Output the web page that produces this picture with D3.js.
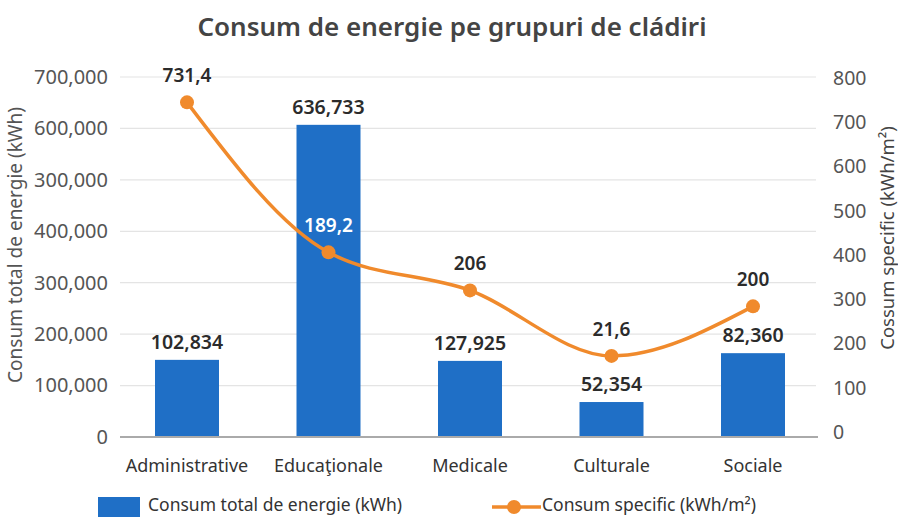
<!DOCTYPE html>
<html>
<head>
<meta charset="utf-8">
<script src="https://cdn.jsdelivr.net/npm/d3@7"></script>
<style>
  body { margin: 0; background: #fff; }
  svg { display: block; font-family: "Noto Sans", "Open Sans", sans-serif; }
</style>
</head>
<body>
<div id="chart"></div>
<script>
// data
const categories = ['Administrative', 'Educaţionale', 'Medicale', 'Culturale', 'Sociale'];
const barValues = [150000, 607000, 148000, 68000, 163000];
const barLabels = ['102,834', '636,733', '127,925', '52,354', '82,360'];
const lineValues = [745, 406, 320, 172, 284];
const lineLabels = ['731,4', '189,2', '206', '21,6', '200'];
const leftTickValues = [0, 100000, 200000, 300000, 400000, 500000, 600000, 700000];
const leftTickLabels = ['0', '100,000', '200,000', '300,000', '400,000', '300,000', '600,000', '700,000'];
const rightTickValues = [0, 100, 200, 300, 400, 500, 600, 700, 800];

const width = 898;
const height = 517;
const blue = '#1f6fc6';
const orange = '#f08a2c';

const svg = d3.select('#chart')
  .append('svg')
  .attr('width', width)
  .attr('height', height);

const x = d3.scalePoint()
  .domain(categories)
  .range([187, 753]);

const yL = d3.scaleLinear()
  .domain([0, 700000])
  .range([437, 77]);

const yR = d3.scaleLinear()
  .domain([0, 800])
  .range([432, 78]);

// title
svg.append('text')
  .attr('x', 452)
  .attr('y', 36)
  .attr('text-anchor', 'middle')
  .style('font-size', '26px')
  .style('font-weight', 600)
  .style('fill', '#444')
  .text('Consum de energie pe grupuri de cládiri');

// gridlines
svg.append('g')
  .selectAll('line')
  .data(leftTickValues.slice(1))
  .enter().append('line')
    .attr('x1', 120)
    .attr('x2', 816)
    .attr('y1', d => yL(d))
    .attr('y2', d => yL(d))
    .style('stroke', '#e4e4e4')
    .style('stroke-width', 1.2);

// left axis
const leftAxis = d3.axisLeft(yL)
  .tickValues(leftTickValues)
  .tickSize(0)
  .tickPadding(0)
  .tickFormat((d, i) => leftTickLabels[i]);

svg.append('g')
  .attr('transform', 'translate(108,0)')
  .call(leftAxis)
  .call(g => g.select('.domain').remove())
  .selectAll('text')
    .style('font-family', '"Noto Sans", sans-serif')
    .style('font-size', '20px')
    .style('fill', '#555');

// right axis
const rightAxis = d3.axisRight(yR)
  .tickValues(rightTickValues)
  .tickSize(0)
  .tickPadding(0)
  .tickFormat(d3.format('d'));

svg.append('g')
  .attr('transform', 'translate(833,0)')
  .call(rightAxis)
  .call(g => g.select('.domain').remove())
  .selectAll('text')
    .style('font-family', '"Noto Sans", sans-serif')
    .style('font-size', '19.5px')
    .style('fill', '#555');

// axis titles
svg.append('text')
  .attr('transform', 'translate(22,245) rotate(-90)')
  .attr('text-anchor', 'middle')
  .style('font-size', '19px')
  .style('fill', '#555')
  .text('Consum total de energie (kWh)');

svg.append('text')
  .attr('transform', 'translate(894,238) rotate(-90)')
  .attr('text-anchor', 'middle')
  .style('font-size', '18.5px')
  .style('fill', '#444')
  .text('Cossum specific  (kWh/m²)');

// bars
const barW = 64;
const rows = categories.map((c, i) => ({
  cat: c,
  bar: barValues[i],
  barLabel: barLabels[i],
  line: lineValues[i],
  lineLabel: lineLabels[i]
}));

svg.append('g')
  .selectAll('rect')
  .data(rows)
  .enter().append('rect')
    .attr('x', d => x(d.cat) - barW / 2)
    .attr('y', d => yL(d.bar))
    .attr('width', barW)
    .attr('height', d => yL(0) - yL(d.bar))
    .style('fill', blue);

// baseline
svg.append('line')
  .attr('x1', 120)
  .attr('x2', 818)
  .attr('y1', yL(0))
  .attr('y2', yL(0))
  .style('stroke', '#aaa')
  .style('stroke-width', 2);

// bar labels
svg.append('g')
  .selectAll('text')
  .data(rows)
  .enter().append('text')
    .attr('x', d => x(d.cat))
    .attr('y', d => yL(d.bar) - 11)
    .attr('text-anchor', 'middle')
    .style('font-size', '19.5px')
    .style('font-weight', 600)
    .style('fill', '#2b2b2b')
    .text(d => d.barLabel);

// category labels
svg.append('g')
  .selectAll('text')
  .data(rows)
  .enter().append('text')
    .attr('x', d => x(d.cat))
    .attr('y', 472)
    .attr('text-anchor', 'middle')
    .style('font-size', '18px')
    .style('fill', '#333')
    .text(d => d.cat);

// line
const line = d3.line()
  .x(d => x(d.cat))
  .y(d => yR(d.line))
  .curve(d3.curveMonotoneX);

svg.append('path')
  .datum(rows)
  .attr('d', line)
  .style('fill', 'none')
  .style('stroke', orange)
  .style('stroke-width', 3.5);

svg.append('g')
  .selectAll('circle')
  .data(rows)
  .enter().append('circle')
    .attr('cx', d => x(d.cat))
    .attr('cy', d => yR(d.line))
    .attr('r', 7)
    .style('fill', orange);

// line labels, white where they sit on a bar
svg.append('g')
  .selectAll('text')
  .data(rows)
  .enter().append('text')
    .attr('x', d => x(d.cat))
    .attr('y', d => yR(d.line) - 20)
    .attr('text-anchor', 'middle')
    .style('font-size', '19px')
    .style('font-weight', 600)
    .style('fill', d => yR(d.line) - 26 > yL(d.bar) ? '#fff' : '#2b2b2b')
    .text(d => d.lineLabel);

// legend
const legend = svg.append('g');

legend.append('rect')
  .attr('x', 98)
  .attr('y', 497)
  .attr('width', 42)
  .attr('height', 24)
  .style('fill', blue);

legend.append('text')
  .attr('x', 148)
  .attr('y', 511)
  .style('font-size', '17.5px')
  .style('fill', '#333')
  .text('Consum total de energie (kWh)');

legend.append('line')
  .attr('x1', 492)
  .attr('x2', 541)
  .attr('y1', 507)
  .attr('y2', 507)
  .style('stroke', orange)
  .style('stroke-width', 3.5);

legend.append('circle')
  .attr('cx', 514)
  .attr('cy', 507)
  .attr('r', 7)
  .style('fill', orange);

legend.append('text')
  .attr('x', 542)
  .attr('y', 511)
  .style('font-size', '17.5px')
  .style('fill', '#333')
  .text('Consum specific (kWh/m²)');
</script>
</body>
</html>
